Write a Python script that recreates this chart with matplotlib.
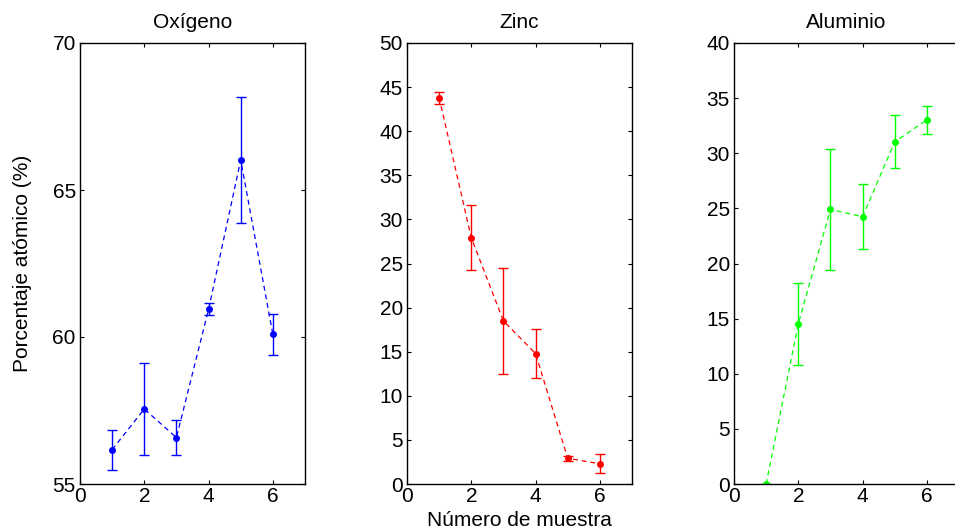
import matplotlib
matplotlib.use("Agg")
import matplotlib.pyplot as plt

plt.rcParams['font.family'] = ['Liberation Sans', 'DejaVu Sans']

muestras = [1, 2, 3, 4, 5, 6]

oxigeno = [56.17, 57.55, 56.58, 60.94, 66.02, 60.09]
oxigeno_err = [0.68, 1.56, 0.6, 0.2, 2.14, 0.7]

zinc = [43.81, 27.92, 18.49, 14.79, 2.91, 2.30]
zinc_err = [0.68, 3.66, 6.04, 2.8, 0.32, 1.1]

aluminio = [0.0, 14.52, 24.91, 24.24, 31.03, 33.03]
aluminio_err = [0.0, 3.75, 5.5, 2.95, 2.4, 1.3]

titles = ["Oxígeno", "Zinc", "Aluminio"]
series = [oxigeno, zinc, aluminio]
errors = [oxigeno_err, zinc_err, aluminio_err]
colors = [(0, 0, 1), (1, 0, 0), (0, 1, 0)]
ylims = [(55, 70), (0, 50), (0, 40)]
yticks = [[55, 60, 65, 70], list(range(0, 51, 5)), list(range(0, 41, 5))]
xticks = [0, 2, 4, 6]

W, H = 955, 531
fig = plt.figure(figsize=(W / 100, H / 100), dpi=100)
lefts = [80, 407, 734]
width = 225
top, bottom = 43, 484
FS = 15

for i in range(3):
    ax = fig.add_axes([lefts[i] / W, 1 - bottom / H, width / W, (bottom - top) / H])
    c = colors[i]
    ax.plot(muestras, series[i], linestyle='--', color=c, linewidth=0.9, dashes=(4, 3))
    ax.errorbar(muestras, series[i], yerr=errors[i], fmt='o', color=c,
                markersize=4, elinewidth=1.0, capsize=3.5, capthick=1.0)
    ax.set_xlim(0, 7)
    ax.set_ylim(*ylims[i])
    ax.set_xticks(xticks)
    ax.set_yticks(yticks[i])
    ax.tick_params(direction='in', top=True, right=True, labelsize=FS, length=3, width=0.8)
    ax.tick_params(axis='x', pad=2)
    ax.tick_params(axis='y', pad=3)
    for sp in ax.spines.values():
        sp.set_linewidth(1.0)
    ax.set_title(titles[i], fontsize=FS, pad=11)
    if i == 0:
        ax.set_ylabel("Porcentaje atómico (%)", fontsize=FS)
        ax.yaxis.set_label_coords(-0.213, 0.5)
    if i == 1:
        ax.set_xlabel("Número de muestra", fontsize=FS)
        ax.xaxis.set_label_coords(0.5, -0.062)

fig.savefig("out.png", dpi=100)
